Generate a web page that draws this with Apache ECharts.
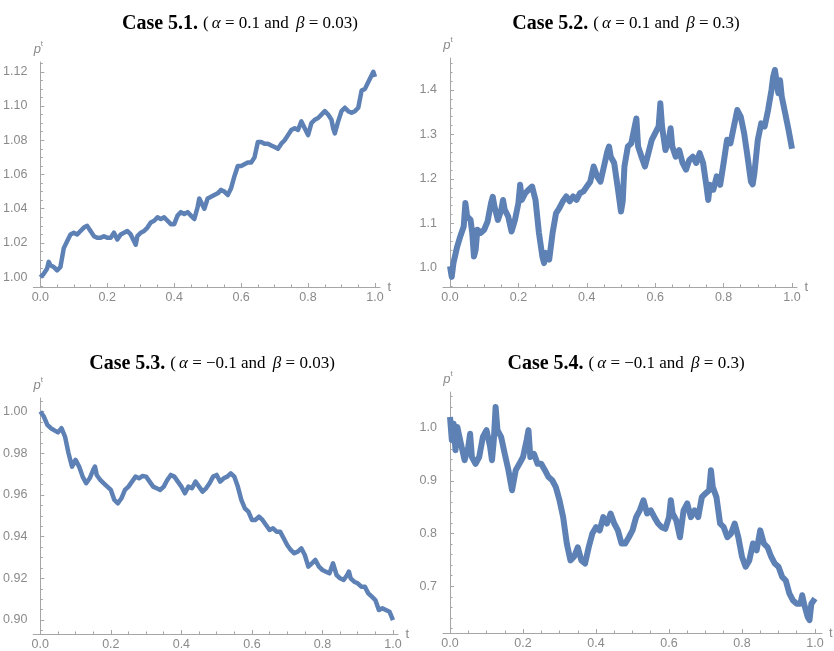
<!DOCTYPE html>
<html>
<head>
<meta charset="utf-8">
<script src="https://cdn.jsdelivr.net/npm/echarts@6/dist/echarts.min.js"></script>
<style>
  html, body { margin: 0; padding: 0; background: #fff; }
  #root { width: 834px; height: 651px; }
</style>
</head>
<body>
<div id="root"></div>
<script>
// sample paths: [t, p]
const case1 = [
  [0,1.000],[0.01,1.002],[0.02,1.005],[0.025,1.009],[0.03,1.007],[0.04,1.006],[0.05,1.004],[0.055,1.003],
  [0.06,1.006],[0.07,1.017],[0.08,1.021],[0.09,1.025],[0.10,1.026],[0.11,1.025],[0.12,1.027],[0.13,1.029],
  [0.14,1.030],[0.15,1.027],[0.16,1.024],[0.17,1.023],[0.18,1.023],[0.19,1.024],[0.20,1.023],[0.21,1.023],
  [0.22,1.026],[0.23,1.022],[0.24,1.025],[0.25,1.026],[0.26,1.027],[0.27,1.025],[0.28,1.021],[0.285,1.019],
  [0.29,1.024],[0.30,1.026],[0.31,1.027],[0.32,1.029],[0.33,1.032],[0.34,1.033],[0.35,1.035],[0.36,1.034],
  [0.37,1.035],[0.38,1.033],[0.39,1.031],[0.40,1.031],[0.41,1.036],[0.42,1.038],[0.43,1.037],[0.44,1.038],
  [0.45,1.036],[0.46,1.034],[0.47,1.041],[0.475,1.046],[0.48,1.044],[0.49,1.040],[0.50,1.046],[0.51,1.047],
  [0.52,1.048],[0.53,1.049],[0.54,1.051],[0.55,1.050],[0.56,1.048],[0.57,1.052],[0.58,1.059],[0.59,1.065],
  [0.60,1.065],[0.61,1.066],[0.62,1.067],[0.63,1.067],[0.64,1.070],[0.65,1.079],[0.66,1.079],[0.67,1.078],
  [0.68,1.078],[0.69,1.077],[0.70,1.076],[0.71,1.075],[0.72,1.078],[0.73,1.080],[0.74,1.083],[0.75,1.086],
  [0.76,1.087],[0.77,1.086],[0.78,1.091],[0.79,1.087],[0.80,1.083],[0.81,1.090],[0.82,1.092],[0.83,1.093],
  [0.84,1.095],[0.85,1.097],[0.86,1.095],[0.87,1.092],[0.875,1.087],[0.88,1.084],[0.89,1.091],[0.90,1.097],
  [0.91,1.099],[0.92,1.097],[0.93,1.096],[0.94,1.097],[0.95,1.099],[0.96,1.109],[0.97,1.110],[0.98,1.114],
  [0.99,1.118],[0.995,1.120],[1.00,1.117]
];
const case2 = [
  [0,1.004],[0.005,0.980],[0.01,1.011],[0.02,1.045],[0.03,1.071],[0.04,1.093],[0.045,1.146],[0.05,1.116],
  [0.06,1.108],[0.065,1.079],[0.07,1.026],[0.075,1.041],[0.08,1.086],[0.09,1.079],[0.10,1.086],[0.11,1.105],
  [0.12,1.146],[0.125,1.160],[0.13,1.138],[0.14,1.108],[0.15,1.131],[0.155,1.153],[0.16,1.131],[0.17,1.116],
  [0.18,1.082],[0.19,1.108],[0.20,1.146],[0.205,1.187],[0.21,1.153],[0.22,1.168],[0.23,1.176],[0.24,1.183],
  [0.245,1.187],[0.25,1.153],[0.26,1.079],[0.27,1.026],[0.275,1.011],[0.28,1.034],[0.29,1.019],[0.30,1.079],
  [0.31,1.123],[0.32,1.135],[0.33,1.150],[0.34,1.161],[0.35,1.150],[0.36,1.161],[0.37,1.153],[0.38,1.168],
  [0.39,1.172],[0.40,1.183],[0.41,1.194],[0.42,1.228],[0.43,1.206],[0.44,1.194],[0.45,1.228],[0.46,1.262],
  [0.465,1.273],[0.47,1.250],[0.48,1.236],[0.49,1.183],[0.50,1.127],[0.505,1.150],[0.51,1.228],[0.52,1.273],
  [0.53,1.280],[0.54,1.318],[0.545,1.336],[0.55,1.273],[0.56,1.250],[0.57,1.228],[0.58,1.258],[0.59,1.288],
  [0.60,1.303],[0.61,1.318],[0.615,1.370],[0.62,1.318],[0.63,1.265],[0.64,1.288],[0.645,1.314],[0.65,1.273],
  [0.66,1.250],[0.67,1.265],[0.68,1.236],[0.69,1.221],[0.70,1.243],[0.71,1.250],[0.72,1.236],[0.73,1.258],
  [0.74,1.236],[0.75,1.183],[0.755,1.153],[0.76,1.187],[0.77,1.176],[0.78,1.206],[0.79,1.187],[0.80,1.236],
  [0.81,1.288],[0.82,1.280],[0.83,1.318],[0.84,1.355],[0.85,1.340],[0.86,1.303],[0.87,1.250],[0.88,1.194],
  [0.885,1.188],[0.89,1.213],[0.90,1.288],[0.91,1.325],[0.92,1.318],[0.93,1.355],[0.94,1.400],[0.945,1.430],
  [0.95,1.445],[0.96,1.393],[0.965,1.422],[0.97,1.385],[0.98,1.348],[0.99,1.310],[1.00,1.268]
];
const case3 = [
  [0,1.000],[0.01,0.9976],[0.02,0.9936],[0.03,0.992],[0.04,0.991],[0.05,0.990],[0.06,0.992],[0.065,0.9928],
  [0.07,0.988],[0.08,0.980],[0.09,0.9736],[0.10,0.9768],[0.11,0.9736],[0.12,0.9688],[0.13,0.9656],[0.14,0.968],
  [0.15,0.972],[0.155,0.9736],[0.16,0.9696],[0.17,0.9672],[0.18,0.9656],[0.19,0.964],[0.20,0.9624],[0.21,0.9576],
  [0.22,0.956],[0.23,0.9584],[0.24,0.9624],[0.25,0.964],[0.26,0.9664],[0.27,0.9688],[0.28,0.968],[0.29,0.9691],
  [0.30,0.9688],[0.31,0.9664],[0.32,0.964],[0.33,0.9632],[0.34,0.9624],[0.35,0.964],[0.36,0.9672],[0.37,0.9696],
  [0.38,0.9688],[0.39,0.9664],[0.40,0.964],[0.41,0.9608],[0.42,0.964],[0.43,0.9632],[0.44,0.9664],[0.45,0.964],
  [0.46,0.9616],[0.47,0.9632],[0.48,0.9656],[0.49,0.9688],[0.50,0.9696],[0.51,0.9664],[0.52,0.968],[0.53,0.9688],
  [0.54,0.9704],[0.55,0.9688],[0.56,0.964],[0.57,0.9576],[0.58,0.9536],[0.59,0.952],[0.60,0.948],[0.61,0.948],
  [0.62,0.9496],[0.63,0.948],[0.64,0.9456],[0.65,0.9432],[0.66,0.944],[0.67,0.9424],[0.68,0.9424],[0.69,0.9392],
  [0.70,0.936],[0.71,0.9336],[0.72,0.932],[0.73,0.9328],[0.74,0.9344],[0.75,0.9312],[0.76,0.9256],[0.77,0.9272],
  [0.78,0.9288],[0.79,0.9256],[0.80,0.924],[0.81,0.9232],[0.82,0.9224],[0.83,0.9272],[0.84,0.9216],[0.85,0.920],
  [0.86,0.9192],[0.87,0.9216],[0.875,0.9232],[0.88,0.920],[0.89,0.9184],[0.90,0.9176],[0.91,0.916],[0.92,0.916],
  [0.93,0.9128],[0.94,0.9112],[0.95,0.9096],[0.96,0.9048],[0.97,0.9056],[0.98,0.9048],[0.99,0.904],[1.00,0.900]
];
const case4 = [
  [0,1.021],[0.005,0.977],[0.01,1.008],[0.015,0.958],[0.02,1.002],[0.03,0.970],[0.04,0.939],[0.05,0.964],
  [0.055,0.989],[0.06,0.945],[0.07,0.932],[0.08,0.945],[0.09,0.983],[0.10,0.996],[0.11,0.964],[0.115,0.939],
  [0.12,0.977],[0.125,1.040],[0.13,0.996],[0.14,0.983],[0.15,0.951],[0.16,0.920],[0.17,0.882],[0.18,0.920],
  [0.19,0.932],[0.20,0.945],[0.21,0.977],[0.215,0.996],[0.22,0.945],[0.23,0.951],[0.24,0.932],[0.25,0.932],
  [0.26,0.920],[0.27,0.907],[0.28,0.901],[0.29,0.888],[0.30,0.863],[0.31,0.831],[0.32,0.781],[0.33,0.749],
  [0.34,0.756],[0.35,0.774],[0.36,0.749],[0.37,0.743],[0.38,0.774],[0.39,0.800],[0.40,0.812],[0.41,0.806],
  [0.42,0.831],[0.43,0.819],[0.44,0.838],[0.45,0.819],[0.46,0.806],[0.47,0.781],[0.48,0.781],[0.49,0.793],
  [0.50,0.806],[0.51,0.831],[0.52,0.844],[0.53,0.863],[0.54,0.838],[0.55,0.844],[0.56,0.831],[0.57,0.819],
  [0.58,0.812],[0.59,0.809],[0.60,0.831],[0.605,0.863],[0.61,0.838],[0.62,0.825],[0.63,0.793],[0.64,0.844],
  [0.65,0.857],[0.66,0.831],[0.67,0.844],[0.68,0.831],[0.69,0.869],[0.70,0.876],[0.71,0.882],[0.715,0.920],
  [0.72,0.888],[0.73,0.869],[0.74,0.819],[0.75,0.812],[0.76,0.793],[0.77,0.800],[0.78,0.819],[0.79,0.793],
  [0.80,0.756],[0.81,0.737],[0.82,0.749],[0.83,0.781],[0.84,0.768],[0.85,0.806],[0.86,0.781],[0.87,0.774],
  [0.88,0.756],[0.89,0.743],[0.90,0.737],[0.91,0.718],[0.92,0.711],[0.93,0.686],[0.94,0.673],[0.95,0.667],
  [0.96,0.667],[0.965,0.683],[0.97,0.667],[0.98,0.642],[0.985,0.636],[0.99,0.667],[1.00,0.677]
];

const titles = [
  ['Case 5.1.', '0.1', '0.03'],
  ['Case 5.2.', '0.1', '0.3'],
  ['Case 5.3.', '\u22120.1', '0.03'],
  ['Case 5.4.', '\u22120.1', '0.3']
];
const xTicks = [0, 0.2, 0.4, 0.6, 0.8, 1.0];
const yTicks1 = [1.00, 1.02, 1.04, 1.06, 1.08, 1.10, 1.12];
const yTicks2 = [1.0, 1.1, 1.2, 1.3, 1.4];
const yTicks3 = [0.90, 0.92, 0.94, 0.96, 0.98, 1.00];
const yTicks4 = [0.7, 0.8, 0.9, 1.0];

const root = document.getElementById('root');
const chart = echarts.init(root);

const lineColor = '#5e81b5';
const axisGray = '#a6a6a6';
const labelGray = '#8a8a8a';

function steps(from, to, step) {
  const out = [];
  const n = Math.round((to - from) / step);
  for (let i = 0; i <= n; i++) out.push(Math.round((from + i * step) * 10000) / 10000);
  return out;
}

// panel layout (pixels) and axis ranges
const panels = [
  { data: case1, yTicks: yTicks1, dec: 2, grid: { left: 33, top: 62, width: 347, height: 225 },
    x: [-0.021, 1.015], y: [0.9943, 1.1257], yMinor: steps(0.995, 1.125, 0.005), width: 4.5,
    title: { x: 235, y: 9 } },
  { data: case2, yTicks: yTicks2, dec: 1, grid: { left: 443, top: 58, width: 354, height: 229 },
    x: [-0.0205, 1.0146], y: [0.9573, 1.4719], yMinor: steps(0.96, 1.46, 0.02), width: 6,
    title: { x: 621, y: 9 } },
  { data: case3, yTicks: yTicks3, dec: 2, grid: { left: 33, top: 398, width: 365, height: 236 },
    x: [-0.0198, 1.0142], y: [0.8933, 1.0065], yMinor: steps(0.895, 1.005, 0.005), width: 4.5,
    title: { x: 207, y: 349 } },
  { data: case4, yTicks: yTicks4, dec: 1, grid: { left: 443, top: 392, width: 379, height: 241 },
    x: [-0.0192, 1.0192], y: [0.6115, 1.0682], yMinor: steps(0.62, 1.06, 0.02), width: 6,
    title: { x: 621, y: 349 } }
];

const grid = [], xAxis = [], yAxis = [], series = [], title = [];
const xMinor = steps(0, 1, 0.05);

const serif = 'Liberation Serif';
panels.forEach((pn, i) => {
  grid.push(pn.grid);
  const t = titles[i];
  title.push({
    left: pn.title.x, top: pn.title.y, textAlign: 'center',
    text: '{b|' + t[0] + '} {n|(}{i|\u03b1}{n| = ' + t[1] + ' and }{i|\u03b2}{n| = ' + t[2] + ')}',
    textStyle: {
      fontWeight: 'normal',
      rich: {
        b: { fontFamily: serif, fontWeight: 'bold', fontSize: 20, color: '#000' },
        n: { fontFamily: serif, fontWeight: 'normal', fontSize: 17, color: '#000' },
        i: { fontFamily: serif, fontWeight: 'normal', fontStyle: 'italic', fontSize: 17, color: '#000', padding: [0, 0, 0, 3] }
      }
    }
  });
  // main axes
  xAxis.push({
    type: 'value', gridIndex: i, min: pn.x[0], max: pn.x[1],
    name: 't', nameLocation: 'end', nameGap: 7,
    nameTextStyle: { color: labelGray, fontFamily: 'Liberation Sans', fontSize: 13, padding: [0, 0, 6, 0] },
    axisLine: { lineStyle: { color: axisGray, width: 1 } },
    axisTick: { inside: true, length: 4, customValues: xTicks, lineStyle: { color: axisGray } },
    axisLabel: { customValues: xTicks, color: labelGray, fontFamily: 'Liberation Sans', fontSize: 12.5, margin: 4,
      formatter: v => v.toFixed(1) },
    splitLine: { show: false }
  });
  yAxis.push({
    type: 'value', gridIndex: i, min: pn.y[0], max: pn.y[1],
    name: '{p|p}{s|t}', nameLocation: 'end', nameGap: 6,
    nameTextStyle: { padding: [0, 4, 0, 0], rich: {
      p: { fontFamily: 'Liberation Sans', fontStyle: 'italic', fontSize: 13, color: labelGray, lineHeight: 16, verticalAlign: 'bottom' },
      s: { fontFamily: 'Liberation Sans', fontSize: 8, color: labelGray, lineHeight: 16, verticalAlign: 'top' }
    } },
    axisLine: { onZero: true, lineStyle: { color: axisGray, width: 1 } },
    axisTick: { inside: true, length: 4, customValues: pn.yTicks, lineStyle: { color: axisGray } },
    axisLabel: { customValues: pn.yTicks, color: labelGray, fontFamily: 'Liberation Sans', fontSize: 12.5, margin: 6,
      formatter: v => v.toFixed(pn.dec) },
    splitLine: { show: false }
  });
  series.push({
    type: 'line', xAxisIndex: i, yAxisIndex: i, data: pn.data,
    showSymbol: false, symbol: 'none', smooth: false, animation: false,
    lineStyle: { color: lineColor, width: pn.width, join: 'round' }
  });
});

// minor tick overlays
panels.forEach((pn, i) => {
  xAxis.push({
    type: 'value', gridIndex: i, min: pn.x[0], max: pn.x[1], position: 'bottom',
    axisLine: { show: false },
    axisTick: { inside: true, length: 2.5, customValues: xMinor, lineStyle: { color: axisGray } },
    axisLabel: { show: false }, splitLine: { show: false }
  });
  yAxis.push({
    type: 'value', gridIndex: i, min: pn.y[0], max: pn.y[1], position: 'left',
    axisLine: { show: false, onZero: true, onZeroAxisIndex: i },
    axisTick: { inside: true, length: 2.5, customValues: pn.yMinor, lineStyle: { color: axisGray } },
    axisLabel: { show: false }, splitLine: { show: false }
  });
});

chart.setOption({
  animation: false,
  backgroundColor: '#fff',
  title: title,
  grid: grid,
  xAxis: xAxis,
  yAxis: yAxis,
  series: series
});
</script>
</body>
</html>
